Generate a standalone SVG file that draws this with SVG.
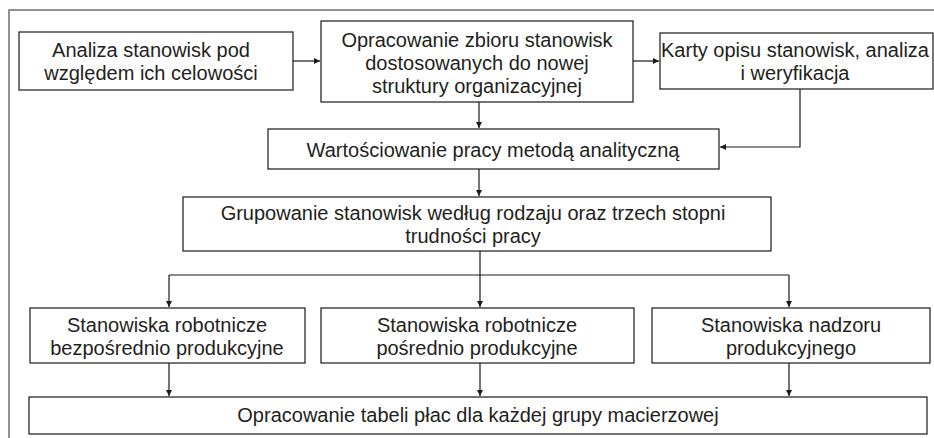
<svg xmlns="http://www.w3.org/2000/svg" width="934" height="438" viewBox="0 0 934 438">
  <style>
    .frame { fill: none; stroke: #6e6e6e; stroke-width: 1.5; }
    .box { fill: #ffffff; stroke: #1a1a1a; stroke-width: 1.2; }
    .lbl { font-family: "Liberation Sans", Arial, sans-serif; font-size: 20px; fill: #231f20; text-anchor: middle; }
    .conn { fill: none; stroke: #1a1a1a; stroke-width: 1.2; }
  </style>
  <defs>
    <marker id="arrow" markerWidth="6" markerHeight="6" refX="6" refY="3" orient="auto" markerUnits="userSpaceOnUse">
      <path d="M0,0 L6,3 L0,6 Z" fill="#1a1a1a"/>
    </marker>
  </defs>
  <rect width="934" height="438" fill="#ffffff"/>
  <!-- outer frame, open to the right and bottom -->
  <path class="frame" d="M9,438 V10 H934"/>

  <g id="connectors">
    <line class="conn" x1="293" y1="61" x2="320" y2="61" marker-end="url(#arrow)"/>
    <line class="conn" x1="633" y1="61" x2="659" y2="61" marker-end="url(#arrow)"/>
    <line class="conn" x1="479" y1="102" x2="479" y2="128" marker-end="url(#arrow)"/>
    <polyline class="conn" points="800,89 800,147 720,147" marker-end="url(#arrow)"/>
    <line class="conn" x1="479" y1="169" x2="479" y2="196" marker-end="url(#arrow)"/>
    <line class="conn" x1="480" y1="251" x2="480" y2="275"/>
    <line class="conn" x1="169" y1="275" x2="789" y2="275"/>
    <line class="conn" x1="169" y1="275" x2="169" y2="307" marker-end="url(#arrow)"/>
    <line class="conn" x1="480" y1="275" x2="480" y2="307" marker-end="url(#arrow)"/>
    <line class="conn" x1="789" y1="275" x2="789" y2="307" marker-end="url(#arrow)"/>
    <line class="conn" x1="169" y1="363" x2="169" y2="396" marker-end="url(#arrow)"/>
    <line class="conn" x1="480" y1="363" x2="480" y2="396" marker-end="url(#arrow)"/>
    <line class="conn" x1="789" y1="363" x2="789" y2="396" marker-end="url(#arrow)"/>
  </g>

  <g id="analiza">
    <rect class="box" x="19" y="32" width="274" height="58"/>
    <text class="lbl" x="151" y="57">Analiza stanowisk pod</text>
    <text class="lbl" x="151" y="80">względem ich celowości</text>
  </g>

  <g id="opracowanie-zbioru">
    <rect class="box" x="321" y="21" width="312" height="81"/>
    <text class="lbl" x="477" y="47">Opracowanie zbioru stanowisk</text>
    <text class="lbl" x="477" y="70">dostosowanych do nowej</text>
    <text class="lbl" x="477" y="93">struktury organizacyjnej</text>
  </g>

  <g id="karty-opisu">
    <rect class="box" x="660" y="33" width="273" height="56"/>
    <text class="lbl" x="795" y="57">Karty opisu stanowisk, analiza</text>
    <text class="lbl" x="795" y="80">i weryfikacja</text>
  </g>

  <g id="wartosciowanie">
    <rect class="box" x="268" y="129" width="451" height="40"/>
    <text class="lbl" x="493" y="157">Wartościowanie pracy metodą analityczną</text>
  </g>

  <g id="grupowanie">
    <rect class="box" x="183" y="197" width="588" height="54"/>
    <text class="lbl" x="473" y="220">Grupowanie stanowisk według rodzaju oraz trzech stopni</text>
    <text class="lbl" x="473" y="243">trudności pracy</text>
  </g>

  <g id="bezposrednio">
    <rect class="box" x="30" y="308" width="275" height="55"/>
    <text class="lbl" x="167" y="332">Stanowiska robotnicze</text>
    <text class="lbl" x="167" y="355">bezpośrednio produkcyjne</text>
  </g>

  <g id="posrednio">
    <rect class="box" x="321" y="308" width="313" height="55"/>
    <text class="lbl" x="477" y="332">Stanowiska robotnicze</text>
    <text class="lbl" x="477" y="355">pośrednio produkcyjne</text>
  </g>

  <g id="nadzor">
    <rect class="box" x="652" y="308" width="278" height="55"/>
    <text class="lbl" x="791" y="332">Stanowiska nadzoru</text>
    <text class="lbl" x="791" y="355">produkcyjnego</text>
  </g>

  <g id="tabela-plac">
    <rect class="box" x="29" y="397" width="898" height="37"/>
    <text class="lbl" x="478" y="422">Opracowanie tabeli płac dla każdej grupy macierzowej</text>
  </g>
</svg>
